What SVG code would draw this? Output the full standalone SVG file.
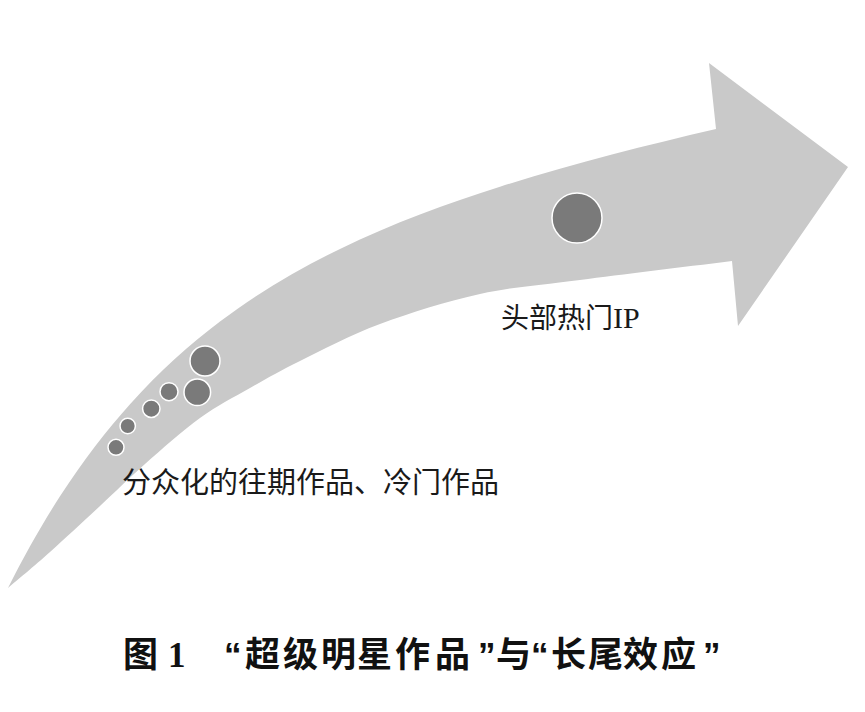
<svg xmlns="http://www.w3.org/2000/svg" width="865" height="712" viewBox="0 0 865 712">
<style>
.arrow{fill:#c9c9c9;}
.dot{fill:#7a7a7a;stroke:#ffffff;stroke-width:1.5;}
.lbl{font-family:"Noto Sans CJK SC","Noto Sans CJK TC",sans-serif;fill:#1a1a1a;}
.lat{font-family:"Liberation Serif","Noto Sans CJK SC",serif;}
.q{font-family:"Liberation Sans","Noto Sans CJK SC",sans-serif;}
.cap{font-family:"Noto Sans CJK SC","Noto Sans CJK TC",sans-serif;font-weight:bold;font-size:35px;fill:#111;}
</style>
<rect width="865" height="712" fill="#ffffff"/>
<g id="arrow">
<path class="arrow" d="M 8 588
C 25.33 553.33, 42.67 523.16, 60 496.33
C 83.33 460.21, 106.67 430.13, 130 404.14
C 160 370.72, 190 344.08, 220 321.46
C 260 291.3, 300 268.31, 340 248.91
C 393.33 223.04, 446.67 203.66, 500 186.75
C 572 163.93, 644 145.77, 716 129
L 709 63 L 848 167 L 738 326 L 732 261
C 681.33 267.33, 622 274.5, 580 280
C 538 285.5, 513.33 286.67, 480 294
C 446.67 301.33, 410 312.83, 380 324
C 350 335.17, 321.67 350.33, 300 361
C 278.33 371.67, 266.67 378.5, 250 388
C 233.33 397.5, 217.5 405.33, 200 418
C 182.5 430.67, 161.67 449.33, 145 464
C 128.33 478.67, 115.83 491.33, 100 506
C 84.17 520.67, 65.33 538.33, 50 552
C 34.67 565.67, 15 582, 8 588 Z"/>
</g>
<g id="long-tail-dots">
<circle id="dot1" class="dot" cx="205" cy="361" r="15"/>
<circle id="dot2" class="dot" cx="197.3" cy="392.3" r="13.3"/>
<circle id="dot3" class="dot" cx="169" cy="391.7" r="9"/>
<circle id="dot4" class="dot" cx="151.3" cy="408.7" r="8.7"/>
<circle id="dot5" class="dot" cx="127.7" cy="426" r="7.7"/>
<circle id="dot6" class="dot" cx="116" cy="447.3" r="8"/>
</g>
<g id="head-dot">
<circle id="dot-hot" class="dot" cx="577" cy="218" r="25"/>
</g>
<g id="label-tail">
<text class="lbl" x="122" y="493" font-size="29">分众化的往期作品、冷门作品</text>
</g>
<g id="label-head">
<text class="lbl" x="501" y="328" font-size="28">头部热门<tspan class="lat" font-size="30">IP</tspan></text>
</g>
<g id="caption">
<text class="cap" y="667"><tspan x="123">图</tspan><tspan x="168" class="lat">1</tspan><tspan x="224" class="q">“</tspan><tspan x="245">超</tspan><tspan x="283">级</tspan><tspan x="321">明</tspan><tspan x="357">星</tspan><tspan x="395">作</tspan><tspan x="435">品</tspan><tspan x="478" class="q">”</tspan><tspan x="496">与</tspan><tspan x="531" class="q">“</tspan><tspan x="551">长</tspan><tspan x="588">尾</tspan><tspan x="623">效</tspan><tspan x="661">应</tspan><tspan x="703" class="q">”</tspan></text>
</g>
</svg>
